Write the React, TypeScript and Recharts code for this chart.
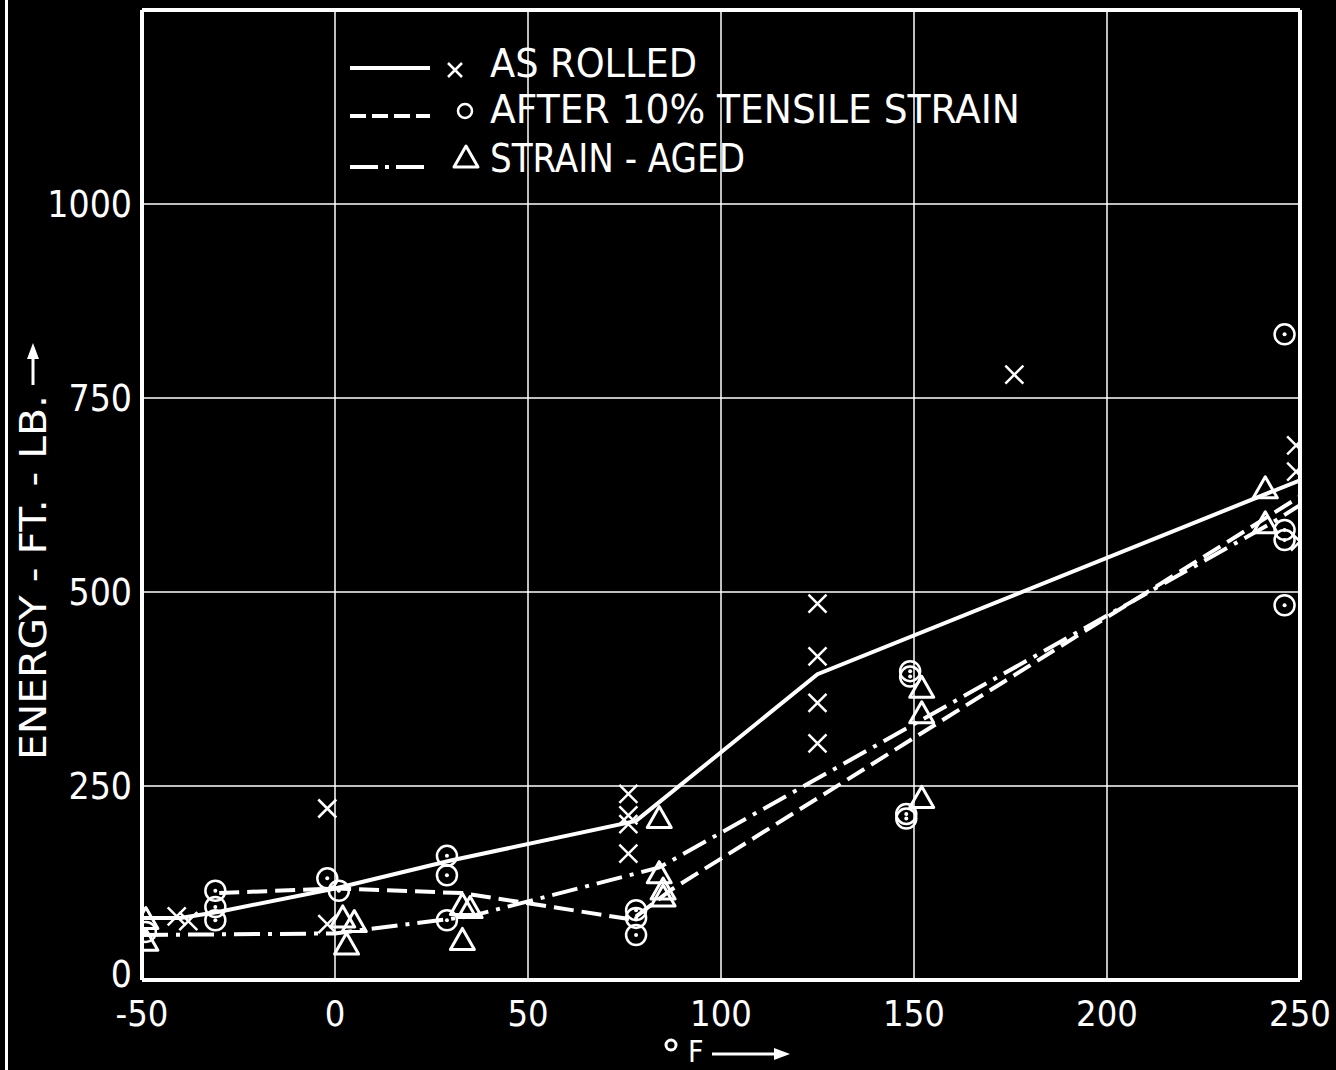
import React from "react";
import {
  ComposedChart,
  Line,
  Scatter,
  XAxis,
  YAxis,
  CartesianGrid,
  ReferenceLine,
} from "recharts";

const X_TICKS = [-50, 0, 50, 100, 150, 200, 250];
const Y_TICKS = [0, 250, 500, 750, 1000];

// mean curves drawn through the test points
const asRolledCurve = [
  { x: -50, y: 80 },
  { x: -40, y: 80 },
  { x: -30, y: 88 },
  { x: 0, y: 118 },
  { x: 30, y: 154 },
  { x: 78, y: 205 },
  { x: 125, y: 394 },
  { x: 250, y: 644 },
];

const strainedCurve = [
  { x: -30, y: 112 },
  { x: 0, y: 118 },
  { x: 33, y: 112 },
  { x: 77, y: 78 },
  { x: 87, y: 116 },
  { x: 250, y: 623 },
];

const agedCurve = [
  { x: -50, y: 58 },
  { x: 0, y: 60 },
  { x: 35, y: 82 },
  { x: 84, y: 145 },
  { x: 243, y: 590 },
  { x: 250, y: 612 },
];

// test points
const asRolledPts = [
  { x: -41, y: 82 },
  { x: -38, y: 76 },
  { x: -2, y: 221 },
  { x: -2, y: 72 },
  { x: 76, y: 240 },
  { x: 76, y: 212 },
  { x: 76, y: 201 },
  { x: 76, y: 163 },
  { x: 125, y: 485 },
  { x: 125, y: 417 },
  { x: 125, y: 357 },
  { x: 125, y: 305 },
  { x: 176, y: 780 },
  { x: 249, y: 689 },
  { x: 249, y: 655 },
  { x: 250, y: 565 },
];

const strainedPts = [
  { x: -49, y: 62 },
  { x: -31, y: 115 },
  { x: -31, y: 94 },
  { x: -31, y: 77 },
  { x: -2, y: 131 },
  { x: 1, y: 115 },
  { x: 29, y: 160 },
  { x: 29, y: 135 },
  { x: 29, y: 77 },
  { x: 78, y: 90 },
  { x: 78, y: 80 },
  { x: 78, y: 58 },
  { x: 149, y: 398 },
  { x: 149, y: 391 },
  { x: 148, y: 214 },
  { x: 148, y: 208 },
  { x: 246, y: 832 },
  { x: 246, y: 580 },
  { x: 246, y: 567 },
  { x: 246, y: 483 },
];

const agedPts = [
  { x: -49, y: 78 },
  { x: -49, y: 50 },
  { x: 2, y: 80 },
  { x: 5, y: 74 },
  { x: 3, y: 45 },
  { x: 33, y: 51 },
  { x: 33, y: 96 },
  { x: 35, y: 92 },
  { x: 84, y: 208 },
  { x: 84, y: 137 },
  { x: 85, y: 116 },
  { x: 85, y: 107 },
  { x: 152, y: 376 },
  { x: 152, y: 343 },
  { x: 152, y: 234 },
  { x: 241, y: 633 },
  { x: 241, y: 588 },
];

const LEGEND_LABELS = ["AS  ROLLED", "AFTER  10%  TENSILE  STRAIN", "STRAIN - AGED"];
const Y_TITLE = "ENERGY - FT. - LB.";
const X_TITLE = "F";

const FONT = "'DejaVu Sans Condensed', 'DejaVu Sans', sans-serif";
const W = "#ffffff";
const DASH = "20 8";
const DASH_DOT = "26 8 4 8";

const Cross = (props: any) => {
  const { cx, cy } = props;
  if (cx == null || cy == null) return null;
  const s = 9;
  return (
    <path
      d={`M${cx - s},${cy - s}L${cx + s},${cy + s}M${cx - s},${cy + s}L${cx + s},${cy - s}`}
      stroke={W}
      strokeWidth={2.5}
      fill="none"
    />
  );
};

const Ring = (props: any) => {
  const { cx, cy } = props;
  if (cx == null || cy == null) return null;
  return (
    <g>
      <circle cx={cx} cy={cy} r={10} stroke={W} strokeWidth={2.5} fill="none" />
      <circle cx={cx} cy={cy} r={2} fill={W} />
    </g>
  );
};

const Tri = (props: any) => {
  const { cx, cy } = props;
  if (cx == null || cy == null) return null;
  return (
    <path
      d={`M${cx},${cy - 12}L${cx + 12},${cy + 9}L${cx - 12},${cy + 9}Z`}
      stroke={W}
      strokeWidth={3}
      strokeLinejoin="round"
      fill="none"
    />
  );
};

const XTick = (props: any) => {
  const { x, y, payload } = props;
  return (
    <text
      x={x}
      y={y + 25}
      textAnchor="middle"
      dominantBaseline="central"
      fill={W}
      fontSize={36}
      fontFamily={FONT}
    >
      {payload.value}
    </text>
  );
};

const YTick = (props: any) => {
  const { x, y, payload } = props;
  return (
    <text
      x={x - 2}
      y={payload.value === 0 ? y - 6 : y}
      textAnchor="end"
      dominantBaseline="central"
      fill={W}
      fontSize={37}
      fontFamily={FONT}
    >
      {payload.value}
    </text>
  );
};

const YTitle = () => (
  <g transform="translate(46, 760) rotate(-90)">
    <text
      x={0}
      y={0}
      fill={W}
      fontSize={37}
      fontFamily={FONT}
      textLength={365}
      lengthAdjust="spacingAndGlyphs"
    >
      {Y_TITLE}
    </text>
    <line x1={375} y1={-13} x2={405} y2={-13} stroke={W} strokeWidth={3} />
    <polygon points="417,-13 401,-19 401,-7" fill={W} />
  </g>
);

const XTitle = () => (
  <g>
    <circle cx={671} cy={1045} r={5} stroke={W} strokeWidth={3} fill="none" />
    <text x={688} y={1062} fill={W} fontSize={30} fontFamily={FONT}>
      {X_TITLE}
    </text>
    <line x1={712} y1={1054} x2={776} y2={1054} stroke={W} strokeWidth={3} />
    <polygon points="790,1054 774,1048 774,1060" fill={W} />
  </g>
);

// legend drawn over the plot, in page coordinates
const LegendOverlay = () => {
  const rows = [
    { y: 68, dash: undefined as string | undefined, base: 77, len: 207 },
    { y: 116, dash: "16 6", base: 123, len: 530 },
    { y: 167, dash: "28 7 4 7", base: 172, len: 255 },
  ];
  return (
    <svg
      width={1336}
      height={1070}
      style={{ position: "absolute", left: 0, top: 0, pointerEvents: "none" }}
    >
      {rows.map((r, i) => (
        <g key={i}>
          <line
            x1={350}
            y1={r.y}
            x2={430}
            y2={r.y}
            stroke={W}
            strokeWidth={4}
            strokeDasharray={r.dash}
          />
          <text
            x={490}
            y={r.base}
            fill={W}
            fontSize={39}
            fontFamily={FONT}
            textLength={r.len}
            lengthAdjust="spacingAndGlyphs"
          >
            {LEGEND_LABELS[i]}
          </text>
        </g>
      ))}
      <path d="M448,63L462,77M448,77L462,63" stroke={W} strokeWidth={2.5} />
      <circle cx={465} cy={111} r={7} stroke={W} strokeWidth={2.5} fill="none" />
      <path
        d="M466,146L478,167L454,167Z"
        stroke={W}
        strokeWidth={3}
        strokeLinejoin="round"
        fill="none"
      />
    </svg>
  );
};

export default function App() {
  return (
    <div
      style={{
        position: "absolute",
        left: 0,
        top: 0,
        width: 1336,
        height: 1070,
        background: "#000",
        overflow: "hidden",
      }}
    >
      <div
        style={{
          position: "absolute",
          left: 5,
          top: 0,
          width: 3,
          height: 1070,
          background: W,
        }}
      />
      <ComposedChart
        width={1336}
        height={1070}
        margin={{ top: 10, right: 36, bottom: 0, left: 0 }}
      >
        <CartesianGrid stroke={W} strokeWidth={1.5} />
        <XAxis
          type="number"
          dataKey="x"
          domain={[-50, 250]}
          ticks={X_TICKS}
          allowDataOverflow
          height={90}
          axisLine={{ stroke: W, strokeWidth: 4 }}
          tickLine={false}
          tick={<XTick />}
          label={<XTitle />}
        />
        <YAxis
          type="number"
          dataKey="y"
          domain={[0, 1250]}
          ticks={Y_TICKS}
          allowDataOverflow
          width={142}
          axisLine={{ stroke: W, strokeWidth: 4 }}
          tickLine={false}
          tick={<YTick />}
          label={<YTitle />}
        />
        <ReferenceLine y={1250} stroke={W} strokeWidth={4} />
        <ReferenceLine x={250} stroke={W} strokeWidth={4} />
        <Line
          data={asRolledCurve}
          dataKey="y"
          stroke={W}
          strokeWidth={4}
          dot={false}
          activeDot={false}
          isAnimationActive={false}
        />
        <Line
          data={strainedCurve}
          dataKey="y"
          stroke={W}
          strokeWidth={4}
          strokeDasharray={DASH}
          dot={false}
          activeDot={false}
          isAnimationActive={false}
        />
        <Line
          data={agedCurve}
          dataKey="y"
          stroke={W}
          strokeWidth={4}
          strokeDasharray={DASH_DOT}
          dot={false}
          activeDot={false}
          isAnimationActive={false}
        />
        <Scatter data={asRolledPts} dataKey="y" shape={<Cross />} isAnimationActive={false} />
        <Scatter data={strainedPts} dataKey="y" shape={<Ring />} isAnimationActive={false} />
        <Scatter data={agedPts} dataKey="y" shape={<Tri />} isAnimationActive={false} />
      </ComposedChart>
      <LegendOverlay />
    </div>
  );
}
